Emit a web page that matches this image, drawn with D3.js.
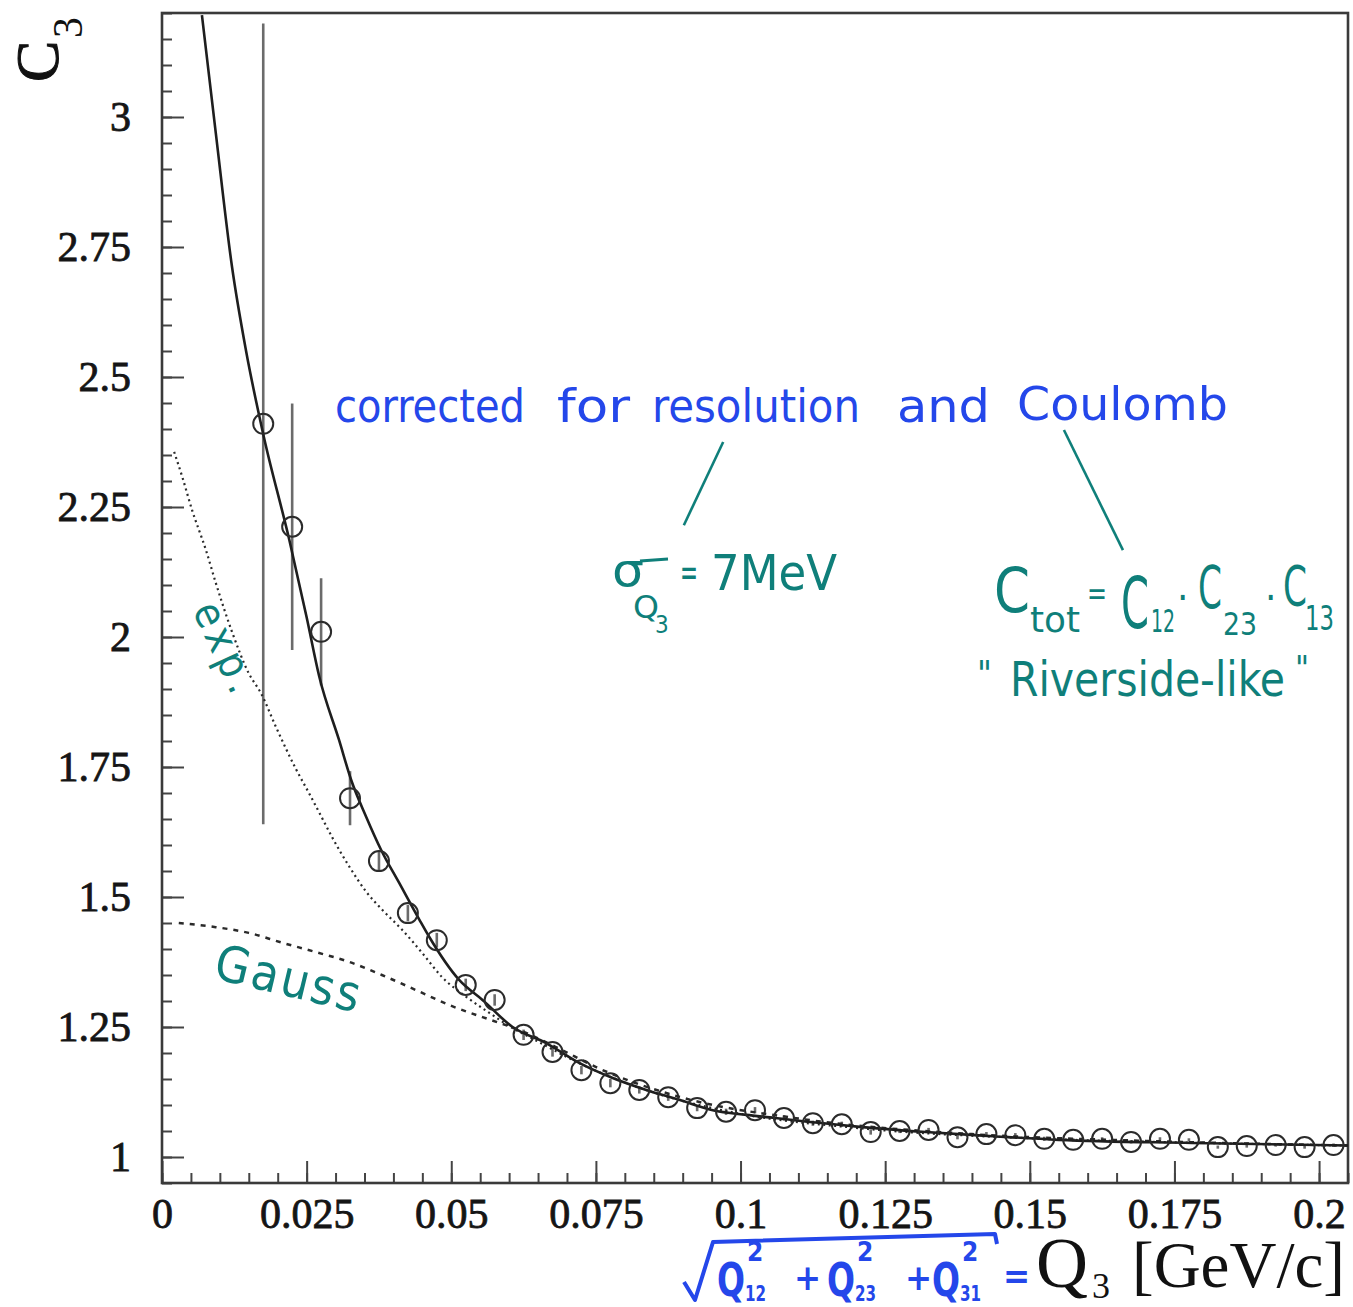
<!DOCTYPE html>
<html>
<head>
<meta charset="utf-8">
<script src="https://cdn.jsdelivr.net/npm/d3@7"></script>
<style>
	body { margin: 0; background: #fff; }
	svg { display: block; }
</style>
</head>
<body>
<script>
// axis ticks
var xTickValues = [0, 0.025, 0.05, 0.075, 0.1, 0.125, 0.15, 0.175, 0.2]
var xTickLabels = ['0', '0.025', '0.05', '0.075', '0.1', '0.125', '0.15', '0.175', '0.2']
var yTickValues = [1, 1.25, 1.5, 1.75, 2, 2.25, 2.5, 2.75, 3]
var yTickLabels = ['1', '1.25', '1.5', '1.75', '2', '2.25', '2.5', '2.75', '3']

// measured C3 vs Q3
var q3 = [0.0175, 0.0225, 0.0275, 0.0325, 0.0375, 0.0425, 0.0475, 0.0525, 0.0575, 0.0625,
	0.0675, 0.0725, 0.0775, 0.0825, 0.0875, 0.0925, 0.0975, 0.1025, 0.1075, 0.1125,
	0.1175, 0.1225, 0.1275, 0.1325, 0.1375, 0.1425, 0.1475, 0.1525, 0.1575, 0.1625,
	0.1675, 0.1725, 0.1775, 0.1825, 0.1875, 0.1925, 0.1975, 0.2025]
var c3 = [2.410, 2.212, 2.010, 1.690, 1.569, 1.469, 1.417, 1.331, 1.302, 1.235,
	1.202, 1.167, 1.142, 1.129, 1.115, 1.094, 1.087, 1.090, 1.075, 1.065,
	1.063, 1.048, 1.050, 1.052, 1.038, 1.044, 1.042, 1.035, 1.033, 1.035,
	1.029, 1.035, 1.033, 1.019, 1.021, 1.023, 1.019, 1.023]
var c3Err = [0.770, 0.237, 0.103, 0.052, 0.020, 0.016, 0.014, 0.012, 0.011, 0.010,
	0.009, 0.008, 0.008, 0.007, 0.007, 0.006, 0.006, 0.006, 0.005, 0.005,
	0.005, 0.005, 0.004, 0.004, 0.004, 0.004, 0.004, 0.004, 0.003, 0.003,
	0.003, 0.003, 0.003, 0.003, 0.003, 0.003, 0.003, 0.003]

// corrected fit (solid)
var fitQ = [0.0069, 0.0093, 0.0121, 0.0145, 0.0175, 0.0220, 0.0250, 0.0272, 0.0306, 0.0327,
	0.0353, 0.0379, 0.0410, 0.0445, 0.0462, 0.0514, 0.0554, 0.0606, 0.0664, 0.0721,
	0.0779, 0.0837, 0.0894, 0.0952, 0.1010, 0.1060, 0.1090, 0.1206, 0.1320, 0.1436,
	0.1550, 0.1780, 0.2050]
var fitC = [3.196, 2.969, 2.712, 2.552, 2.390, 2.187, 2.038, 1.923, 1.802, 1.725,
	1.654, 1.590, 1.527, 1.456, 1.423, 1.340, 1.302, 1.250, 1.219, 1.181,
	1.152, 1.129, 1.110, 1.090, 1.081, 1.075, 1.071, 1.058, 1.048, 1.040,
	1.033, 1.027, 1.022]

// exponential (dotted)
var expQ = [0.0021, 0.0035, 0.0052, 0.0076, 0.0093, 0.0121, 0.0150, 0.0171, 0.0197, 0.0232,
	0.0254, 0.0272, 0.0294, 0.0324, 0.0353, 0.0381, 0.0415, 0.0450, 0.0484, 0.0526,
	0.0566, 0.0600, 0.0650, 0.0720, 0.0850, 0.1000, 0.1200, 0.1500, 0.1800, 0.2050]
var expC = [2.356, 2.308, 2.244, 2.167, 2.104, 2.010, 1.930, 1.892, 1.827, 1.745,
	1.700, 1.662, 1.615, 1.558, 1.510, 1.475, 1.437, 1.392, 1.346, 1.308,
	1.277, 1.252, 1.222, 1.181, 1.124, 1.083, 1.056, 1.036, 1.027, 1.022]

// gauss (dashed)
var gaussQ = [0.0029, 0.0093, 0.0150, 0.0208, 0.0266, 0.0324, 0.0380, 0.0439, 0.0497, 0.0554,
	0.0583, 0.0620, 0.0680, 0.0760, 0.0900, 0.1100, 0.1400, 0.1700, 0.2050]
var gaussC = [1.450, 1.442, 1.431, 1.412, 1.394, 1.375, 1.350, 1.321, 1.292, 1.269,
	1.258, 1.243, 1.212, 1.168, 1.114, 1.074, 1.044, 1.031, 1.022]

var hand = "'DejaVu Sans Condensed', 'DejaVu Sans', sans-serif"
var serif = "'Liberation Serif', 'DejaVu Serif', serif"
var blue = '#2447ea'
var teal = '#0f7f7a'
var ink = '#2b2b2b'

var x = d3.scaleLinear().domain([0, 0.205]).range([162, 1348])
var y = d3.scaleLinear().domain([0.95, 3.2]).range([1183, 13])

var svg = d3.select('body').append('svg')
	.attr('width', 1353)
	.attr('height', 1307)

svg.append('defs').append('clipPath').attr('id', 'plot')
	.append('rect')
	.attr('x', x(0)).attr('y', y(3.2))
	.attr('width', x(0.205) - x(0)).attr('height', y(0.95) - y(3.2))

// minor ticks
var minorY = svg.append('g').attr('transform', 'translate(' + x(0) + ',0)')
	.call(d3.axisLeft(y).tickValues(d3.range(0.95, 3.2001, 0.05)).tickSize(-10).tickFormat(''))
var minorX = svg.append('g').attr('transform', 'translate(0,' + y(0.95) + ')')
	.call(d3.axisBottom(x).tickValues(d3.range(0, 0.2051, 0.005)).tickSize(-10).tickFormat(''))

// major ticks
var majorY = svg.append('g').attr('transform', 'translate(' + x(0) + ',0)')
	.call(d3.axisLeft(y).tickValues(yTickValues).tickSize(-22).tickPadding(31)
		.tickFormat(function(d, i) { return yTickLabels[i] }))
var majorX = svg.append('g').attr('transform', 'translate(0,' + y(0.95) + ')')
	.call(d3.axisBottom(x).tickValues(xTickValues).tickSize(-22).tickPadding(15)
		.tickFormat(function(d, i) { return xTickLabels[i] }))

;[minorY, minorX, majorY, majorX].forEach(function(g) {
	g.select('.domain').remove()
	g.selectAll('line').attr('stroke', '#444').attr('stroke-width', 2)
	g.selectAll('text')
		.attr('font-family', serif)
		.attr('font-size', 42)
		.attr('fill', '#151515')
		.attr('stroke', '#151515')
		.attr('stroke-width', 0.8)
})

// frame
svg.append('rect')
	.attr('x', x(0)).attr('y', y(3.2))
	.attr('width', x(0.205) - x(0)).attr('height', y(0.95) - y(3.2))
	.attr('fill', 'none')
	.attr('stroke', '#3a3a3a')
	.attr('stroke-width', 2.6)

var plot = svg.append('g').attr('clip-path', 'url(#plot)')

// error bars
plot.selectAll('line.err')
	.data(q3)
	.enter()
	.append('line')
	.attr('class', 'err')
	.attr('x1', function(d) { return x(d) })
	.attr('x2', function(d) { return x(d) })
	.attr('y1', function(d, i) { return y(c3[i] + c3Err[i]) })
	.attr('y2', function(d, i) { return y(c3[i] - c3Err[i]) })
	.attr('stroke', '#6b6b6b')
	.attr('stroke-width', 2.6)

var line = d3.line()
	.x(function(d) { return x(d[0]) })
	.y(function(d) { return y(d[1]) })
	.curve(d3.curveMonotoneX)

plot.append('path')
	.attr('d', line(d3.zip(expQ, expC)))
	.attr('fill', 'none')
	.attr('stroke', '#2a2a2a')
	.attr('stroke-width', 2.2)
	.attr('stroke-dasharray', '2,3.5')

plot.append('path')
	.attr('d', line(d3.zip(gaussQ, gaussC)))
	.attr('fill', 'none')
	.attr('stroke', '#2a2a2a')
	.attr('stroke-width', 2.5)
	.attr('stroke-dasharray', '5,6')

plot.append('path')
	.attr('d', line(d3.zip(fitQ, fitC)))
	.attr('fill', 'none')
	.attr('stroke', '#1e1e1e')
	.attr('stroke-width', 2.6)

plot.selectAll('circle')
	.data(q3)
	.enter()
	.append('circle')
	.attr('cx', function(d) { return x(d) })
	.attr('cy', function(d, i) { return y(c3[i]) })
	.attr('r', 10)
	.attr('fill', 'none')
	.attr('stroke', ink)
	.attr('stroke-width', 2)

// axis titles
svg.append('text')
	.attr('transform', 'translate(58,82) rotate(-90)')
	.attr('font-family', serif).attr('font-size', 62).attr('fill', '#111')
	.attr('stroke', '#111').attr('stroke-width', 1)
	.text('C')
svg.append('text')
	.attr('transform', 'translate(82,38) rotate(-90)')
	.attr('font-family', serif).attr('font-size', 42).attr('fill', '#111')
	.text('3')

function note(txt, px, py, size, len, color, opts) {
	opts = opts || {}
	var t = svg.append('text')
		.attr('x', px).attr('y', py)
		.attr('font-family', opts.font || hand)
		.attr('font-size', size)
		.attr('font-weight', opts.weight || 'normal')
		.attr('fill', color)
		.text(txt)
	if(len) {
		t.attr('textLength', len).attr('lengthAdjust', opts.adjust || 'spacingAndGlyphs')
	}
	if(opts.rot) {
		t.attr('transform', 'rotate(' + opts.rot + ',' + px + ',' + py + ')')
	}
	return t
}

// "corrected for resolution and Coulomb"
note('corrected', 335, 422, 46, 190, blue)
note('for', 557, 422, 46, 73, blue)
note('resolution', 652, 422, 46, 208, blue)
note('and', 897, 422, 46, 93, blue)
note('Coulomb', 1017, 420, 46, 211, blue)

// pointer lines
svg.append('line')
	.attr('x1', x(0.0970)).attr('y1', y(2.375))
	.attr('x2', x(0.0902)).attr('y2', y(2.215))
	.attr('stroke', teal).attr('stroke-width', 2.6)
svg.append('line')
	.attr('x1', x(0.1559)).attr('y1', y(2.398))
	.attr('x2', x(0.1661)).attr('y2', y(2.167))
	.attr('stroke', teal).attr('stroke-width', 2.6)

// sigma_Q3 = 7MeV
note('\u03c3', 612, 586, 46, 32, teal)
svg.append('line')
	.attr('x1', 640).attr('y1', 561).attr('x2', 668).attr('y2', 559)
	.attr('stroke', teal).attr('stroke-width', 3)
note('Q', 633, 618, 32, 26, teal)
note('3', 655, 633, 24, 0, teal)
note('=', 680, 586, 40, 18, teal)
note('7MeV', 711, 590, 50, 126, teal)

// C_tot = C12 . C23 . C13
note('C', 994, 612, 62, 36, teal)
note('tot', 1030, 632, 36, 50, teal)
note('=', 1087, 605, 34, 20, teal)
note('C', 1121, 628, 72, 28, teal)
note('12', 1151, 632, 32, 24, teal)
note('\u00b7', 1177, 612, 40, 0, teal)
note('C', 1198, 608, 58, 24, teal)
note('23', 1223, 635, 32, 34, teal)
note('\u00b7', 1265, 612, 40, 0, teal)
note('C', 1283, 605, 56, 24, teal)
note('13', 1305, 630, 34, 29, teal)
note('"', 977, 686, 36, 0, teal)
note('Riverside-like', 1010, 696, 48, 275, teal)
note('"', 1295, 680, 34, 0, teal)

// fit labels
note('exp.', 192, 610, 42, 95, teal, { rot: 65, adjust: 'spacing' })
note('Gauss', 212, 978, 50, 148, teal, { rot: 13.5, adjust: 'spacing' })

// x axis title
svg.append('path')
	.attr('d', 'M684,1282 L695,1300 L713,1242 L995,1234 L997,1244')
	.attr('fill', 'none')
	.attr('stroke', blue)
	.attr('stroke-width', 4)
	.attr('stroke-linejoin', 'round')
var qParts = [[717, '12'], [827, '23'], [932, '31']]
qParts.forEach(function(p) {
	note('Q', p[0], 1296, 46, 28, blue, { weight: 'bold' })
	note('2', p[0] + 30, 1261, 26, 0, blue, { weight: 'bold' })
	note(p[1], p[0] + 28, 1301, 22, 21, blue, { weight: 'bold' })
})
note('+', 794, 1290, 36, 0, blue, { weight: 'bold' })
note('+', 905, 1290, 36, 0, blue, { weight: 'bold' })
note('=', 1003, 1288, 36, 0, blue, { weight: 'bold' })
note('Q', 1036, 1287, 72, 0, '#111', { font: serif })
note('3', 1092, 1298, 36, 0, '#111', { font: serif })
note('[GeV/c]', 1132, 1287, 66, 213, '#111', { font: serif })
</script>
</body>
</html>
